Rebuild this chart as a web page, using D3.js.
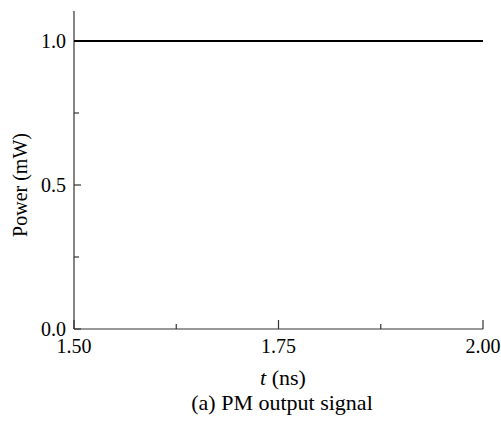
<!DOCTYPE html>
<html><head><meta charset="utf-8">
<script src="https://cdn.jsdelivr.net/npm/d3@7"></script>
<style>body{margin:0;background:#fff}svg{display:block}text{font-family:"Liberation Serif","Times New Roman",serif;fill:#000}</style>
</head><body><svg id="c" width="501" height="423"></svg>
<script>
const timeNs = [1.50, 1.60, 1.70, 1.80, 1.90, 2.00];
const powerMW = [1.0, 1.0, 1.0, 1.0, 1.0, 1.0];
const xTicks = [1.50, 1.75, 2.00];
const xMinor = [1.625, 1.875];
const yTicks = [0.0, 0.5, 1.0];
const yMinor = [0.25, 0.75];

const svg = d3.select("#c");
const x = d3.scaleLinear().domain([1.5, 2.0]).range([74, 483]);
const y = d3.scaleLinear().domain([0, 1.0]).range([329, 41]);

// axes lines
svg.append("line").attr("x1",74).attr("x2",74).attr("y1",11).attr("y2",329).attr("stroke","#333").attr("stroke-width",1.2);
svg.append("line").attr("x1",74).attr("x2",483).attr("y1",329).attr("y2",329).attr("stroke","#333").attr("stroke-width",1.2);

// y ticks (inward)
svg.selectAll(".yt").data(yTicks).enter().append("line")
  .attr("x1",74).attr("x2",81).attr("y1",d=>y(d)).attr("y2",d=>y(d)).attr("stroke","#333").attr("stroke-width",1.2);
svg.selectAll(".ym").data(yMinor).enter().append("line")
  .attr("x1",74).attr("x2",79).attr("y1",d=>y(d)).attr("y2",d=>y(d)).attr("stroke","#333").attr("stroke-width",1.2);
svg.selectAll(".yl").data(yTicks).enter().append("text")
  .attr("x",66).attr("y",d=>y(d)+7).attr("text-anchor","end").attr("font-size",20).text(d=>d.toFixed(1));

// x ticks (inward)
svg.selectAll(".xt").data(xTicks).enter().append("line")
  .attr("x1",d=>x(d)).attr("x2",d=>x(d)).attr("y1",329).attr("y2",320).attr("stroke","#333").attr("stroke-width",1.2);
svg.selectAll(".xm").data(xMinor).enter().append("line")
  .attr("x1",d=>x(d)).attr("x2",d=>x(d)).attr("y1",329).attr("y2",324).attr("stroke","#333").attr("stroke-width",1.2);
svg.selectAll(".xl").data(xTicks).enter().append("text")
  .attr("x",d=>x(d)).attr("y",353).attr("text-anchor","middle").attr("font-size",20).text(d=>d.toFixed(2));

// data line
svg.append("path").datum(timeNs.map((t,i)=>[t,powerMW[i]]))
  .attr("d", d3.line().x(d=>x(d[0])).y(d=>y(d[1])))
  .attr("fill","none").attr("stroke","#000").attr("stroke-width",2.2);

// labels
const xl = svg.append("text").attr("x",283).attr("y",385).attr("text-anchor","middle").attr("font-size",22);
xl.append("tspan").attr("font-style","italic").text("t");
xl.append("tspan").text(" (ns)");
svg.append("text").attr("transform","translate(27,185) rotate(-90)").attr("text-anchor","middle").attr("font-size",20).text("Power (mW)");
svg.append("text").attr("x",282).attr("y",410).attr("text-anchor","middle").attr("font-size",22).text("(a) PM output signal");
</script></body></html>
